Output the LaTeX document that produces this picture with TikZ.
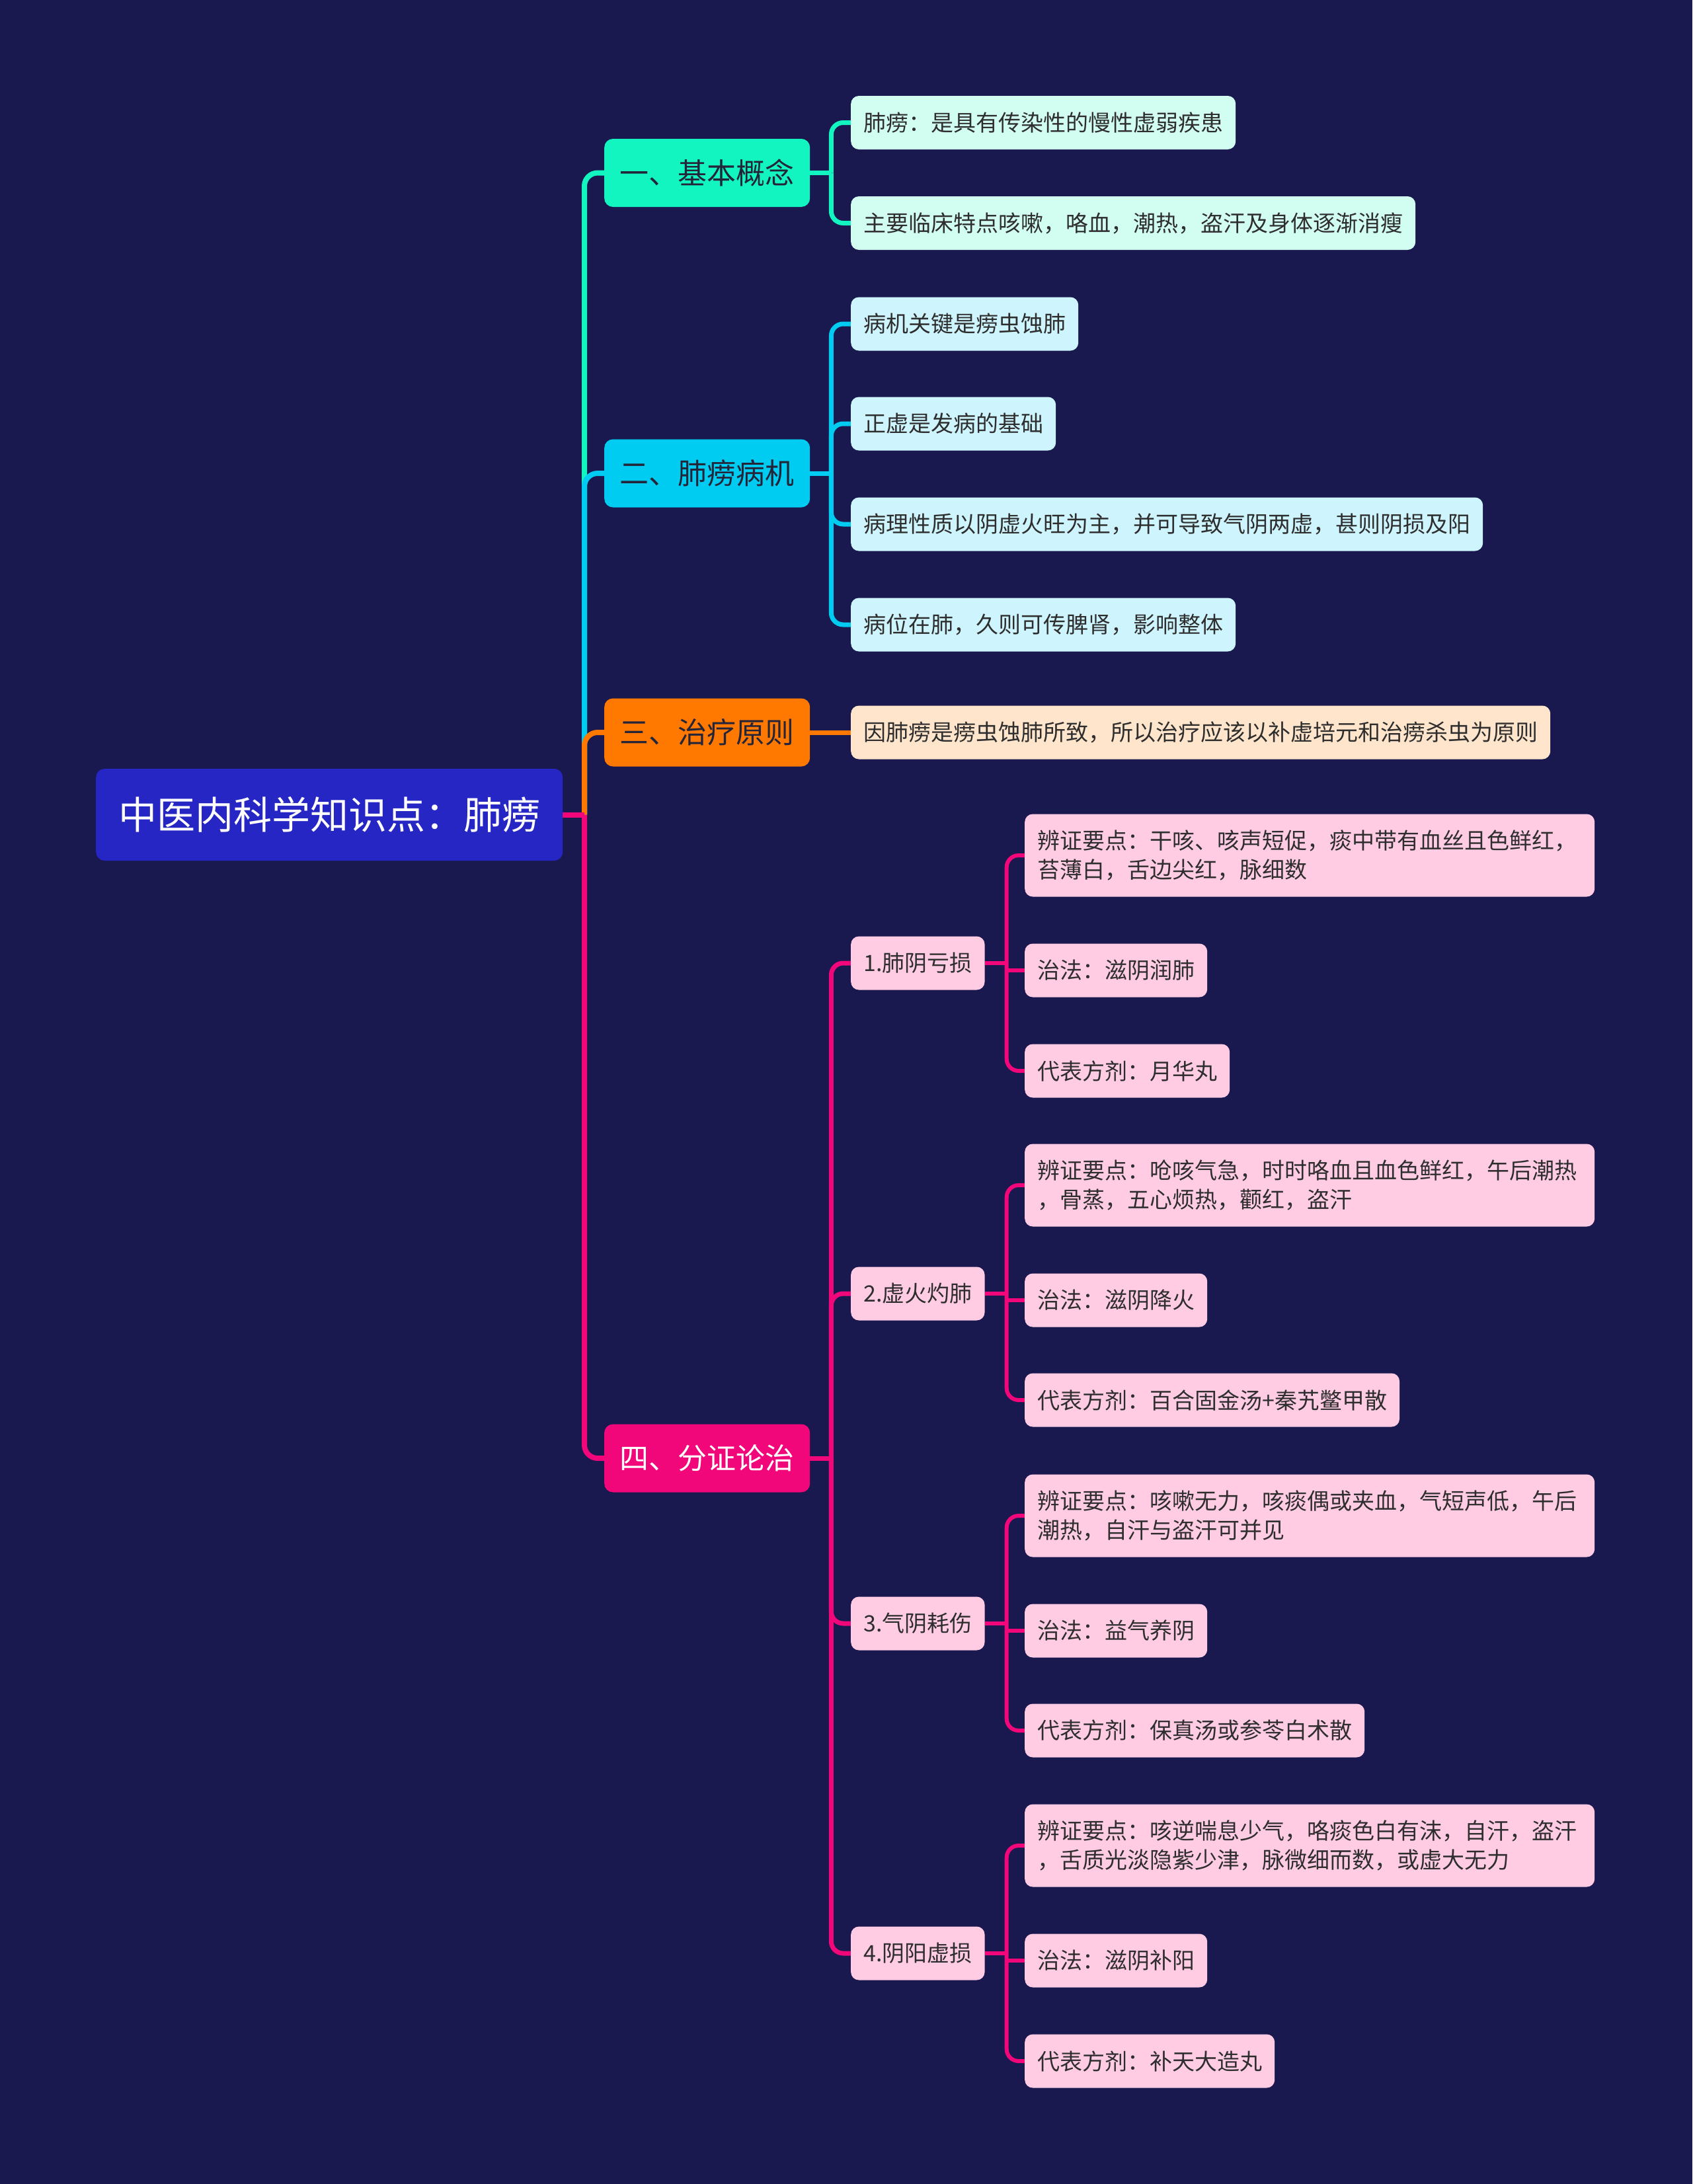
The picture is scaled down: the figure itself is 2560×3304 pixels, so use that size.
\documentclass[tikz,border=0pt]{standalone}
\usepackage{fontspec}
\setmainfont{Noto Sans CJK SC}
\definecolor{bgc}{HTML}{19184F}
\definecolor{rootc}{HTML}{2626C5}
\definecolor{tealc}{HTML}{12F5C0}
\definecolor{cyanc}{HTML}{00CCF2}
\definecolor{orangec}{HTML}{FF7800}
\definecolor{pinkc}{HTML}{F2077A}
\definecolor{tealL}{HTML}{D2FDF1}
\definecolor{cyanL}{HTML}{CEF4FD}
\definecolor{orangeL}{HTML}{FFE5CB}
\definecolor{pinkL}{HTML}{FFCCE4}
\definecolor{txt}{HTML}{2E2E2E}
\definecolor{txtd}{HTML}{25253A}
\pgfdeclarelayer{back}
\pgfsetlayers{back,main}
\tikzset{
  rootbox/.style={fill=rootc, text=white, rounded corners=13pt, minimum width=706pt, minimum height=139pt, inner sep=0pt, font=\fontsize{58}{70}\selectfont, anchor=west},
  mainbox/.style={rounded corners=13pt, minimum width=311pt, minimum height=103pt, inner sep=0pt, font=\fontsize{44}{54}\selectfont, anchor=west, text=txtd},
  leafbox/.style={rounded corners=12pt, minimum height=81pt, inner xsep=19pt, inner ysep=0pt, font=\fontsize{34}{44}\selectfont, text=txt, anchor=west},
  longbox/.style={leafbox, text width=824pt, align=left, minimum height=125pt},
  lkA/.style={line width=8pt, rounded corners=20pt},
  lkB/.style={line width=7pt, rounded corners=18pt},
  lkC/.style={line width=6pt, rounded corners=18pt}
}
\begin{document}
\begin{tikzpicture}[x=1pt,y=-1pt]
\useasboundingbox (0,0) rectangle (2560,3304);
% root
\node[rootbox] (r) at (145,1232.5) {中医内科学知识点：肺痨};
% level 1
\node[mainbox, fill=tealc] (a) at (914,261.5) {一、基本概念};
\node[mainbox, fill=cyanc] (b) at (914,716) {二、肺痨病机};
\node[mainbox, fill=orangec] (c) at (914,1108) {三、治疗原则};
\node[mainbox, fill=pinkc, text=white] (d) at (914,2206) {四、分证论治};
% level 2
\node[leafbox, fill=tealL] (a1) at (1287,185.5) {肺痨：是具有传染性的慢性虚弱疾患};
\node[leafbox, fill=tealL] (a2) at (1287,337.5) {主要临床特点咳嗽，咯血，潮热，盗汗及身体逐渐消瘦};
\node[leafbox, fill=cyanL] (b1) at (1287,490) {病机关键是痨虫蚀肺};
\node[leafbox, fill=cyanL] (b2) at (1287,641) {正虚是发病的基础};
\node[leafbox, fill=cyanL] (b3) at (1287,793) {病理性质以阴虚火旺为主，并可导致气阴两虚，甚则阴损及阳};
\node[leafbox, fill=cyanL] (b4) at (1287,945) {病位在肺，久则可传脾肾，影响整体};
\node[leafbox, fill=orangeL] (c1) at (1287,1108) {因肺痨是痨虫蚀肺所致，所以治疗应该以补虚培元和治痨杀虫为原则};
\node[leafbox, fill=pinkL] (d1) at (1287,1457) {1.肺阴亏损};
\node[leafbox, fill=pinkL] (d2) at (1287,1957) {2.虚火灼肺};
\node[leafbox, fill=pinkL] (d3) at (1287,2456) {3.气阴耗伤};
\node[leafbox, fill=pinkL] (d4) at (1287,2955) {4.阴阳虚损};
% level 3
\node[longbox, fill=pinkL] (d1a) at (1550,1294) {辨证要点：干咳、咳声短促，痰中带有血丝且色鲜红，\\苔薄白，舌边尖红，脉细数};
\node[leafbox, fill=pinkL] (d1b) at (1550,1468) {治法：滋阴润肺};
\node[leafbox, fill=pinkL] (d1c) at (1550,1620) {代表方剂：月华丸};
\node[longbox, fill=pinkL] (d2a) at (1550,1793) {辨证要点：呛咳气急，时时咯血且血色鲜红，午后潮热\\，骨蒸，五心烦热，颧红，盗汗};
\node[leafbox, fill=pinkL] (d2b) at (1550,1967) {治法：滋阴降火};
\node[leafbox, fill=pinkL] (d2c) at (1550,2118) {代表方剂：百合固金汤+秦艽鳖甲散};
\node[longbox, fill=pinkL] (d3a) at (1550,2293) {辨证要点：咳嗽无力，咳痰偶或夹血，气短声低，午后\\潮热，自汗与盗汗可并见};
\node[leafbox, fill=pinkL] (d3b) at (1550,2467) {治法：益气养阴};
\node[leafbox, fill=pinkL] (d3c) at (1550,2618) {代表方剂：保真汤或参苓白术散};
\node[longbox, fill=pinkL] (d4a) at (1550,2792) {辨证要点：咳逆喘息少气，咯痰色白有沫，自汗，盗汗\\，舌质光淡隐紫少津，脉微细而数，或虚大无力};
\node[leafbox, fill=pinkL] (d4b) at (1550,2966) {治法：滋阴补阳};
\node[leafbox, fill=pinkL] (d4c) at (1550,3118) {代表方剂：补天大造丸};
\begin{pgfonlayer}{back}
\fill[bgc] (0,0) rectangle (2560,3304);
% level 1 connectors
\coordinate (j0) at (884,1232.5);
\foreach \n/\c in {a/tealc,b/cyanc,c/orangec,d/pinkc}
  \draw[lkA,\c] (j0) -- (j0 |- \n.west) -- (\n.west);
\draw[lkA,pinkc] (r.east) -- (j0);
% level 2 connectors
\path (a.east) ++(32,0) coordinate (ja);
\draw[lkB,tealc] (a.east) -- (ja);
\foreach \s in {a1,a2} \draw[lkB,tealc] (ja) -- (ja |- \s.west) -- (\s.west);
\path (b.east) ++(32,0) coordinate (jb);
\draw[lkB,cyanc] (b.east) -- (jb);
\foreach \s in {b1,b2,b3,b4} \draw[lkB,cyanc] (jb) -- (jb |- \s.west) -- (\s.west);
\draw[lkB,orangec] (c.east) -- (c1.west);
\path (d.east) ++(32,0) coordinate (jd);
\draw[lkB,pinkc] (d.east) -- (jd);
\foreach \s in {d1,d2,d3,d4} \draw[lkB,pinkc] (jd) -- (jd |- \s.west) -- (\s.west);
% level 3 connectors
\foreach \p in {d1,d2,d3,d4}{
  \path (\p.east) ++(33,0) coordinate (j\p);
  \draw[lkC,pinkc] (\p.east) -- (j\p);
  \draw[lkC,pinkc] (j\p) -- (j\p |- \p a.west) -- (\p a.west);
  \draw[lkC,pinkc] (j\p) -- (j\p |- \p c.west) -- (\p c.west);
  \draw[lkC,pinkc] (j\p |- \p b.west) -- (\p b.west);
}
\end{pgfonlayer}
\end{tikzpicture}
\end{document}
